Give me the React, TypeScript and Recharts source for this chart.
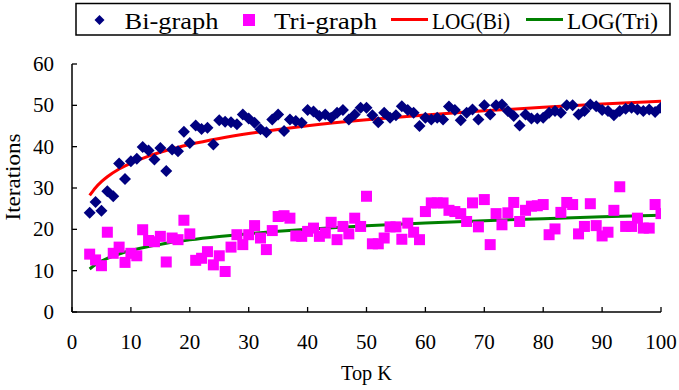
import React from 'react';
import { ComposedChart, Scatter, Line, XAxis, YAxis } from 'recharts';

const topK = [
  3, 4, 5, 6, 7, 8, 9, 10, 11, 12, 13, 14, 15, 16, 17, 18, 19, 20,
  21, 22, 23, 24, 25, 26, 27, 28, 29, 30, 31, 32, 33, 34, 35, 36, 37, 38, 39, 40,
  41, 42, 43, 44, 45, 46, 47, 48, 49, 50, 51, 52, 53, 54, 55, 56, 57, 58, 59, 60,
  61, 62, 63, 64, 65, 66, 67, 68, 69, 70, 71, 72, 73, 74, 75, 76, 77, 78, 79, 80,
  81, 82, 83, 84, 85, 86, 87, 88, 89, 90, 91, 92, 93, 94, 95, 96, 97, 98, 99, 100,
];

const biValues = [
  24.0, 26.6, 24.5, 29.2, 28.0, 35.9, 32.2, 36.5, 37.1, 39.9, 39.1, 36.9, 39.7, 34.1, 39.3, 38.9, 43.6, 40.9,
  45.1, 44.3, 44.6, 40.5, 46.4, 46.0, 45.9, 45.4, 47.8, 46.8, 45.8, 44.2, 43.5, 46.6, 47.8, 43.8, 46.6, 46.2, 45.8, 48.9,
  48.5, 47.4, 47.8, 47.0, 48.2, 48.9, 46.6, 47.8, 49.4, 49.4, 47.6, 45.9, 48.2, 47.0, 47.6, 49.8, 48.9, 48.2, 45.0, 47.0,
  46.6, 47.0, 46.6, 49.7, 48.9, 46.4, 48.2, 49.0, 46.6, 50.0, 47.8, 50.0, 50.2, 48.6, 47.4, 45.1, 47.8, 46.8, 46.8, 47.0,
  48.2, 48.6, 48.2, 50.0, 50.0, 47.8, 48.6, 50.2, 49.8, 48.9, 48.6, 47.6, 48.6, 49.2, 49.4, 49.0, 48.6, 49.0, 48.4, 49.4,
];

const triValues = [
  14.0, 12.6, 11.2, 19.3, 14.2, 15.7, 12.0, 14.2, 13.6, 19.9, 17.3, 17.0, 18.3, 12.1, 17.9, 17.5, 22.2, 18.9,
  12.5, 13.0, 14.6, 11.4, 13.6, 9.8, 15.7, 18.7, 16.3, 18.7, 20.9, 17.9, 15.1, 19.7, 23.1, 23.3, 22.7, 18.4, 18.3, 19.5,
  20.3, 18.3, 19.1, 21.7, 17.5, 20.7, 18.9, 22.7, 20.7, 28.0, 16.5, 16.5, 17.9, 20.6, 20.6, 17.6, 21.5, 19.3, 17.5, 24.3,
  26.4, 26.4, 26.4, 24.6, 24.3, 23.8, 21.9, 26.4, 20.6, 27.2, 16.3, 23.8, 21.1, 24.0, 26.5, 21.9, 24.6, 25.6, 25.7, 26.0,
  18.7, 20.1, 24.1, 26.5, 26.0, 18.9, 20.7, 26.2, 20.9, 18.4, 19.3, 24.6, 30.3, 20.7, 20.7, 22.7, 20.3, 20.3, 26.0, 23.8,
];

const fitK = [3, 4, 5, 6, 8, 10, 13, 16, 20, 25, 30, 35, 40, 50, 60, 70, 80, 90, 100];
const logBiValues = [28.2, 30.07, 31.52, 32.71, 34.58, 36.03, 37.73, 39.08, 40.53, 41.98, 43.17, 44.17, 45.04, 46.49, 47.67, 48.67, 49.54, 50.31, 50.99];
const logTriValues = [10.41, 11.47, 12.3, 12.98, 14.04, 14.87, 15.85, 16.62, 17.45, 18.27, 18.95, 19.52, 20.02, 20.84, 21.52, 22.09, 22.59, 23.03, 23.41];

const xTicks = [0, 10, 20, 30, 40, 50, 60, 70, 80, 90, 100];
const yTicks = [0, 10, 20, 30, 40, 50, 60];

const seriesNames = ['Bi-graph', 'Tri-graph', 'LOG(Bi)', 'LOG(Tri)'];
const xTitle = 'Top K';
const yTitle = 'Iterations';

const NAVY = '#000080';
const MAGENTA = '#FF00FF';
const RED = '#FF0000';
const GREEN = '#008000';
const FONT = '"Liberation Serif", "DejaVu Serif", serif';

const biData = topK.map((k, i) => ({ k, v: biValues[i] }));
const triData = topK.map((k, i) => ({ k, v: triValues[i] }));
const logBiData = fitK.map((k, i) => ({ k, v: logBiValues[i] }));
const logTriData = fitK.map((k, i) => ({ k, v: logTriValues[i] }));

const Diamond = (props: any) => {
  const { cx, cy } = props;
  if (cx == null || cy == null) return null;
  const r = 6;
  return <path d={`M${cx},${cy - r}L${cx + r},${cy}L${cx},${cy + r}L${cx - r},${cy}Z`} fill={NAVY} />;
};

const Square = (props: any) => {
  const { cx, cy } = props;
  if (cx == null || cy == null) return null;
  const s = 11;
  return <rect x={cx - s / 2} y={cy - s / 2} width={s} height={s} fill={MAGENTA} />;
};

const YTick = (props: any) => {
  const { x, y, payload } = props;
  return (
    <g>
      <line x1={x} y1={y} x2={x + 5} y2={y} stroke="#000" strokeWidth={1.3} />
      <text x={x - 18} y={y + 7} textAnchor="end" fontFamily={FONT} fontSize={21} fill="#000">
        {payload.value}
      </text>
    </g>
  );
};

const XTick = (props: any) => {
  const { x, y, payload } = props;
  return (
    <g>
      <line x1={x} y1={y} x2={x} y2={y - 5} stroke="#000" strokeWidth={1.3} />
      <text x={x} y={y + 37} textAnchor="middle" fontFamily={FONT} fontSize={21} fill="#000">
        {payload.value}
      </text>
    </g>
  );
};

const YTitle = (props: any) => {
  const vb = props.viewBox || { x: 0, y: 64, width: 72, height: 248 };
  const cx = vb.x + 20;
  const cy = vb.y + vb.height / 2 - 11;
  return (
    <text x={cx} y={cy} transform={`rotate(-90 ${cx} ${cy})`} textAnchor="middle" fontFamily={FONT} fontSize={21} fill="#000" textLength={87} lengthAdjust="spacingAndGlyphs">
      {yTitle}
    </text>
  );
};

const XTitle = (props: any) => {
  const vb = props.viewBox || { x: 72, y: 312, width: 589, height: 78 };
  const cx = vb.x + vb.width / 2;
  const cy = vb.y + 68;
  return (
    <text x={cx} y={cy} textAnchor="middle" fontFamily={FONT} fontSize={21} fill="#000" textLength={51} lengthAdjust="spacingAndGlyphs">
      {xTitle}
    </text>
  );
};

const LegendBox = () => {
  const t = { fontFamily: FONT, fontSize: 23, fill: '#000', lengthAdjust: 'spacingAndGlyphs' as const };
  return (
    <svg width={679} height={40} style={{ position: 'absolute', left: 0, top: 0 }}>
      <rect x={76} y={3.5} width={594} height={31.5} fill="#fff" stroke="#000" strokeWidth={1.5} />
      <path d="M99.5,15L104.5,20L99.5,25L94.5,20Z" fill={NAVY} />
      <text x={124.5} y={29} textLength={94} {...t}>{seriesNames[0]}</text>
      <rect x={243} y={14} width={12} height={12} fill={MAGENTA} />
      <text x={274} y={29} textLength={103} {...t}>{seriesNames[1]}</text>
      <line x1={391} y1={19.5} x2={428} y2={19.5} stroke={RED} strokeWidth={3} />
      <text x={432} y={29} textLength={78} {...t}>{seriesNames[2]}</text>
      <line x1={526} y1={19.5} x2={563} y2={19.5} stroke={GREEN} strokeWidth={3} />
      <text x={567} y={29} textLength={91} {...t}>{seriesNames[3]}</text>
    </svg>
  );
};

export default function App() {
  return (
    <div style={{ position: 'absolute', left: 0, top: 0, width: 679, height: 390, background: '#fff' }}>
      <ComposedChart width={679} height={390} margin={{ top: 64, right: 18, bottom: 0, left: 0 }}>
        <XAxis
          type="number"
          dataKey="k"
          domain={[0, 100]}
          ticks={xTicks}
          interval={0}
          height={78}
          tickSize={0}
          tickMargin={0}
          tickLine={false}
          tick={<XTick />}
          axisLine={{ stroke: '#000', strokeWidth: 1.5 }}
          label={<XTitle />}
          allowDataOverflow
        />
        <YAxis
          type="number"
          domain={[0, 60]}
          ticks={yTicks}
          interval={0}
          width={72}
          tickSize={0}
          tickMargin={0}
          tickLine={false}
          tick={<YTick />}
          axisLine={{ stroke: '#000', strokeWidth: 1.5 }}
          label={<YTitle />}
          allowDataOverflow
        />
        <Scatter name={seriesNames[0]} data={biData} dataKey="v" shape={<Diamond />} isAnimationActive={false} />
        <Scatter name={seriesNames[1]} data={triData} dataKey="v" shape={<Square />} isAnimationActive={false} />
        <Line name={seriesNames[2]} data={logBiData} dataKey="v" type="monotone" stroke={RED} strokeWidth={3} dot={false} activeDot={false} isAnimationActive={false} />
        <Line name={seriesNames[3]} data={logTriData} dataKey="v" type="monotone" stroke={GREEN} strokeWidth={3} dot={false} activeDot={false} isAnimationActive={false} />
      </ComposedChart>
      <LegendBox />
    </div>
  );
}
